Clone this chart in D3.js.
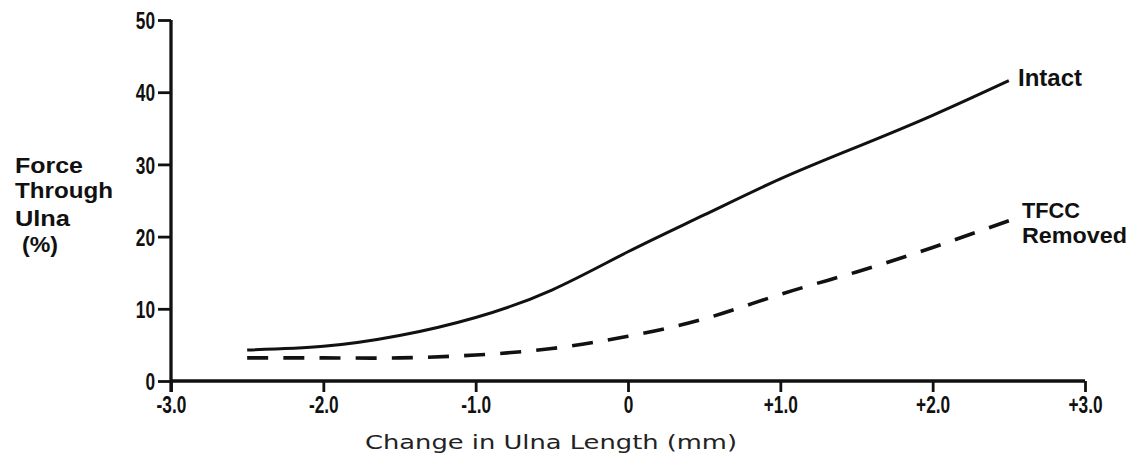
<!DOCTYPE html>
<html><head><meta charset="utf-8">
<script src="https://cdn.jsdelivr.net/npm/d3@7"></script>
<style>
body{margin:0;background:#fff;}
svg{display:block;}
.tick text{font-family:"Liberation Sans",Arial,sans-serif;font-weight:bold;font-size:24px;fill:#111;}
</style></head>
<body>
<svg id="chart" width="1134" height="456"></svg>
<script>
const xValues = [-2.5, -2.0, -1.5, -1.0, -0.5, 0, 0.5, 1.0, 1.5, 2.0, 2.5];
const intact = [4.3, 4.8, 6.3, 8.8, 12.6, 17.9, 23.0, 28.0, 32.4, 36.8, 41.6];
const tfccRemoved = [3.2, 3.2, 3.2, 3.6, 4.5, 6.2, 8.6, 12.0, 15.1, 18.5, 22.2];
const xTicks = [-3, -2, -1, 0, 1, 2, 3];
const xTickLabels = ["-3.0", "-2.0", "-1.0", "0", "+1.0", "+2.0", "+3.0"];
const yTicks = [0, 10, 20, 30, 40, 50];
const seriesNames = ["Intact", ["TFCC", "Removed"]];
const yTitle = ["Force", "Through", "Ulna", "(%)"];
const xTitle = "Change in Ulna Length (mm)";

const svg = d3.select("#chart");
const x = d3.scaleLinear().domain([-3, 3]).range([171, 1085]);
const y = d3.scaleLinear().domain([0, 50]).range([381, 20]);
const SX = 0.72;

const xAxis = d3.axisBottom(x).tickValues(xTicks).tickSize(11).tickPadding(4)
  .tickFormat((d, i) => xTickLabels[i]);
const gx = svg.append("g").attr("transform", `translate(0,${y(0)})`).call(xAxis);
gx.select(".domain").attr("d", `M${x(-3)},0H${x(3)}`).attr("stroke", "#111").attr("stroke-width", 3.3);
gx.selectAll(".tick line").attr("stroke", "#111").attr("stroke-width", 2.8);
gx.selectAll(".tick text").attr("transform", `scale(${SX},1)`).attr("dy", "0.72em");

const yAxis = d3.axisLeft(y).tickValues(yTicks).tickSize(13).tickPadding(3);
const gy = svg.append("g").attr("transform", `translate(${x(-3)},0)`).call(yAxis);
gy.select(".domain").attr("d", `M0,${y(50)}V${y(0) + 11}`).attr("stroke", "#111").attr("stroke-width", 3.3);
gy.selectAll(".tick line").attr("stroke", "#111").attr("stroke-width", 2.8);
gy.selectAll(".tick text").attr("x", -16 / SX).attr("dy", "0.36em").attr("transform", `scale(${SX},1)`);

const line = d3.line().x((d, i) => x(xValues[i])).y(d => y(d)).curve(d3.curveNatural);
svg.append("path").datum(intact).attr("d", line).attr("fill", "none")
  .attr("stroke", "#111").attr("stroke-width", 3);
const dashed = svg.append("path").datum(tfccRemoved).attr("d", line).attr("fill", "none")
  .attr("stroke", "#111").attr("stroke-width", 3.6);
const L = dashed.node().getTotalLength();
const dashLen = 21;
const n = Math.round((L - dashLen) / 37);
const period = (L - dashLen) / n;
dashed.attr("stroke-dasharray", `${dashLen},${period - dashLen}`);

const lblFont = "'Liberation Sans', Arial, sans-serif";
function label(txt, xx, yy, w, fs) {
  svg.append("text").attr("x", xx).attr("y", yy).attr("font-family", lblFont)
    .attr("font-weight", "bold").attr("font-size", fs).attr("fill", "#111")
    .attr("textLength", w).attr("lengthAdjust", "spacingAndGlyphs").text(txt);
}
label(seriesNames[0], 1018, 86, 64, 23);
label(seriesNames[1][0], 1022, 218, 58, 22);
label(seriesNames[1][1], 1022, 243, 105, 22);

const titleX = [15, 15, 15, 22];
const titleY = [173, 198, 226, 252];
const titleW = [68, 98, 55, 36];
yTitle.forEach((s, i) => label(s, titleX[i], titleY[i], titleW[i], 22));

svg.append("text").attr("x", 365).attr("y", 449)
  .attr("font-family", "'DejaVu Sans', sans-serif").attr("font-size", 20).attr("fill", "#222")
  .attr("textLength", 372).attr("lengthAdjust", "spacingAndGlyphs").text(xTitle);
</script>
</body></html>
